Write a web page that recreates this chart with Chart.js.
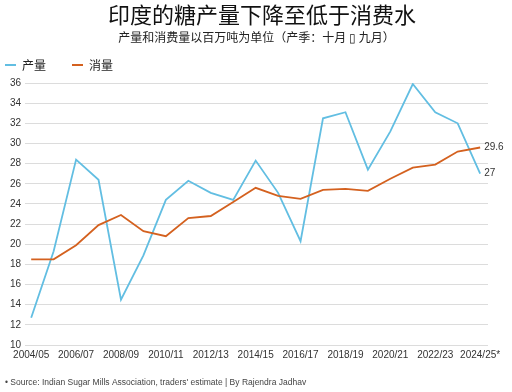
<!DOCTYPE html>
<html>
<head>
<meta charset="utf-8">
<script src="https://cdn.jsdelivr.net/npm/chart.js@4/dist/chart.umd.min.js"></script>
<style>
  html, body { margin: 0; padding: 0; background: #fff; }
  #wrap { position: relative; width: 512px; height: 392px; }
</style>
</head>
<body>
<div id="wrap"><canvas id="c" width="512" height="392"></canvas></div>
<script>
const titleText = '印度的糖产量下降至低于消费水';
const subtitleText = '产量和消费量以百万吨为单位（产季：十月 ▯ 九月）';
const sourceText = '• Source: Indian Sugar Mills Association, traders\' estimate | By Rajendra Jadhav';

const categories = ['2004/05','2005/06','2006/07','2007/08','2008/09','2009/10','2010/11','2011/12','2012/13','2013/14',
  '2014/15','2015/16','2016/17','2017/18','2018/19','2019/20','2020/21','2021/22','2022/23','2023/24','2024/25*'];
const seriesNames = ['产量', '消量'];
const production = [12.7, 19.3, 28.4, 26.4, 14.5, 18.9, 24.4, 26.3, 25.1, 24.4, 28.3, 25.1, 20.3, 32.5, 33.1, 27.4, 31.2, 35.9, 33.1, 32.0, 27.0];
const consumption = [18.5, 18.5, 19.9, 21.9, 22.9, 21.3, 20.8, 22.6, 22.8, 24.2, 25.6, 24.8, 24.5, 25.4, 25.5, 25.3, 26.5, 27.6, 27.9, 29.2, 29.6];
const endLabels = ['27', '29.6'];
const yTicks = [10, 12, 14, 16, 18, 20, 22, 24, 26, 28, 30, 32, 34, 36];

const colors = ['#62bee2', '#d4611f'];
const latin = "'Liberation Sans', Arial, 'Noto Sans CJK SC', sans-serif";
const cjk = "'Noto Sans CJK SC', 'Liberation Sans', sans-serif";

const toPoints = arr => arr.map((v, i) => ({ x: i, y: v }));

const headerPlugin = {
  id: 'header',
  afterDraw(chart) {
    const ctx = chart.ctx;
    ctx.save();
    ctx.textAlign = 'center';
    ctx.textBaseline = 'middle';
    ctx.fillStyle = '#111';
    ctx.font = '22px ' + cjk;
    ctx.fillText(titleText, 262, 15);
    ctx.fillStyle = '#222';
    ctx.font = '12px ' + cjk;
    ctx.fillText(subtitleText, 256.5, 37.5);
    ctx.restore();
  }
};

const legendPlugin = {
  id: 'customLegend',
  afterDraw(chart) {
    const ctx = chart.ctx;
    ctx.save();
    const starts = [5, 72];
    chart.data.datasets.forEach((ds, i) => {
      const x = starts[i], y = 65;
      ctx.strokeStyle = ds.borderColor;
      ctx.lineWidth = 2;
      ctx.beginPath(); ctx.moveTo(x, y); ctx.lineTo(x + 11, y); ctx.stroke();
      ctx.fillStyle = '#222';
      ctx.font = '12px ' + cjk;
      ctx.textBaseline = 'middle';
      ctx.textAlign = 'left';
      ctx.fillText(ds.label, x + 17, y);
    });
    ctx.restore();
  }
};

const endLabelPlugin = {
  id: 'endLabels',
  afterDatasetsDraw(chart) {
    const ctx = chart.ctx;
    ctx.save();
    ctx.font = '10px ' + latin;
    ctx.fillStyle = '#333';
    ctx.textBaseline = 'middle';
    ctx.textAlign = 'left';
    chart.data.datasets.forEach((ds, i) => {
      const meta = chart.getDatasetMeta(i);
      const last = meta.data[meta.data.length - 1];
      ctx.fillText(endLabels[i], last.x + 4, last.y);
    });
    ctx.restore();
  }
};

const sourcePlugin = {
  id: 'source',
  afterDraw(chart) {
    const ctx = chart.ctx;
    ctx.save();
    ctx.font = '8.5px ' + latin;
    ctx.fillStyle = '#444';
    ctx.textBaseline = 'middle';
    ctx.textAlign = 'left';
    ctx.fillText(sourceText, 5, 383);
    ctx.restore();
  }
};

new Chart(document.getElementById('c'), {
  type: 'line',
  data: {
    datasets: [
      { label: seriesNames[0], data: toPoints(production), borderColor: colors[0], backgroundColor: colors[0],
        borderWidth: 1.8, pointRadius: 0, tension: 0, order: 1 },
      { label: seriesNames[1], data: toPoints(consumption), borderColor: colors[1], backgroundColor: colors[1],
        borderWidth: 1.8, pointRadius: 0, tension: 0, order: 0 }
    ]
  },
  options: {
    responsive: false,
    animation: false,
    layout: { padding: { left: 6, right: 24, top: 83, bottom: 27 } },
    plugins: {
      legend: { display: false },
      tooltip: { enabled: false },
      title: { display: false },
      subtitle: { display: false }
    },
    scales: {
      x: {
        type: 'linear',
        min: -0.27, max: 20.35,
        grid: { display: false, drawTicks: false },
        border: { display: false },
        afterBuildTicks(axis) {
          axis.ticks = categories.map((c, i) => ({ value: i })).filter(t => t.value % 2 === 0);
        },
        ticks: {
          autoSkip: false, maxRotation: 0, padding: 4, color: '#333',
          font: { family: latin, size: 10 },
          callback: (v) => categories[v]
        }
      },
      y: {
        min: 10, max: 36,
        afterBuildTicks(axis) { axis.ticks = yTicks.map(v => ({ value: v })); },
        grid: { color: '#dcdcdc', lineWidth: 1, drawTicks: false },
        border: { display: false },
        ticks: { padding: 4, color: '#333', font: { family: latin, size: 10 } }
      }
    }
  },
  plugins: [headerPlugin, legendPlugin, endLabelPlugin, sourcePlugin]
});
</script>
</body>
</html>
